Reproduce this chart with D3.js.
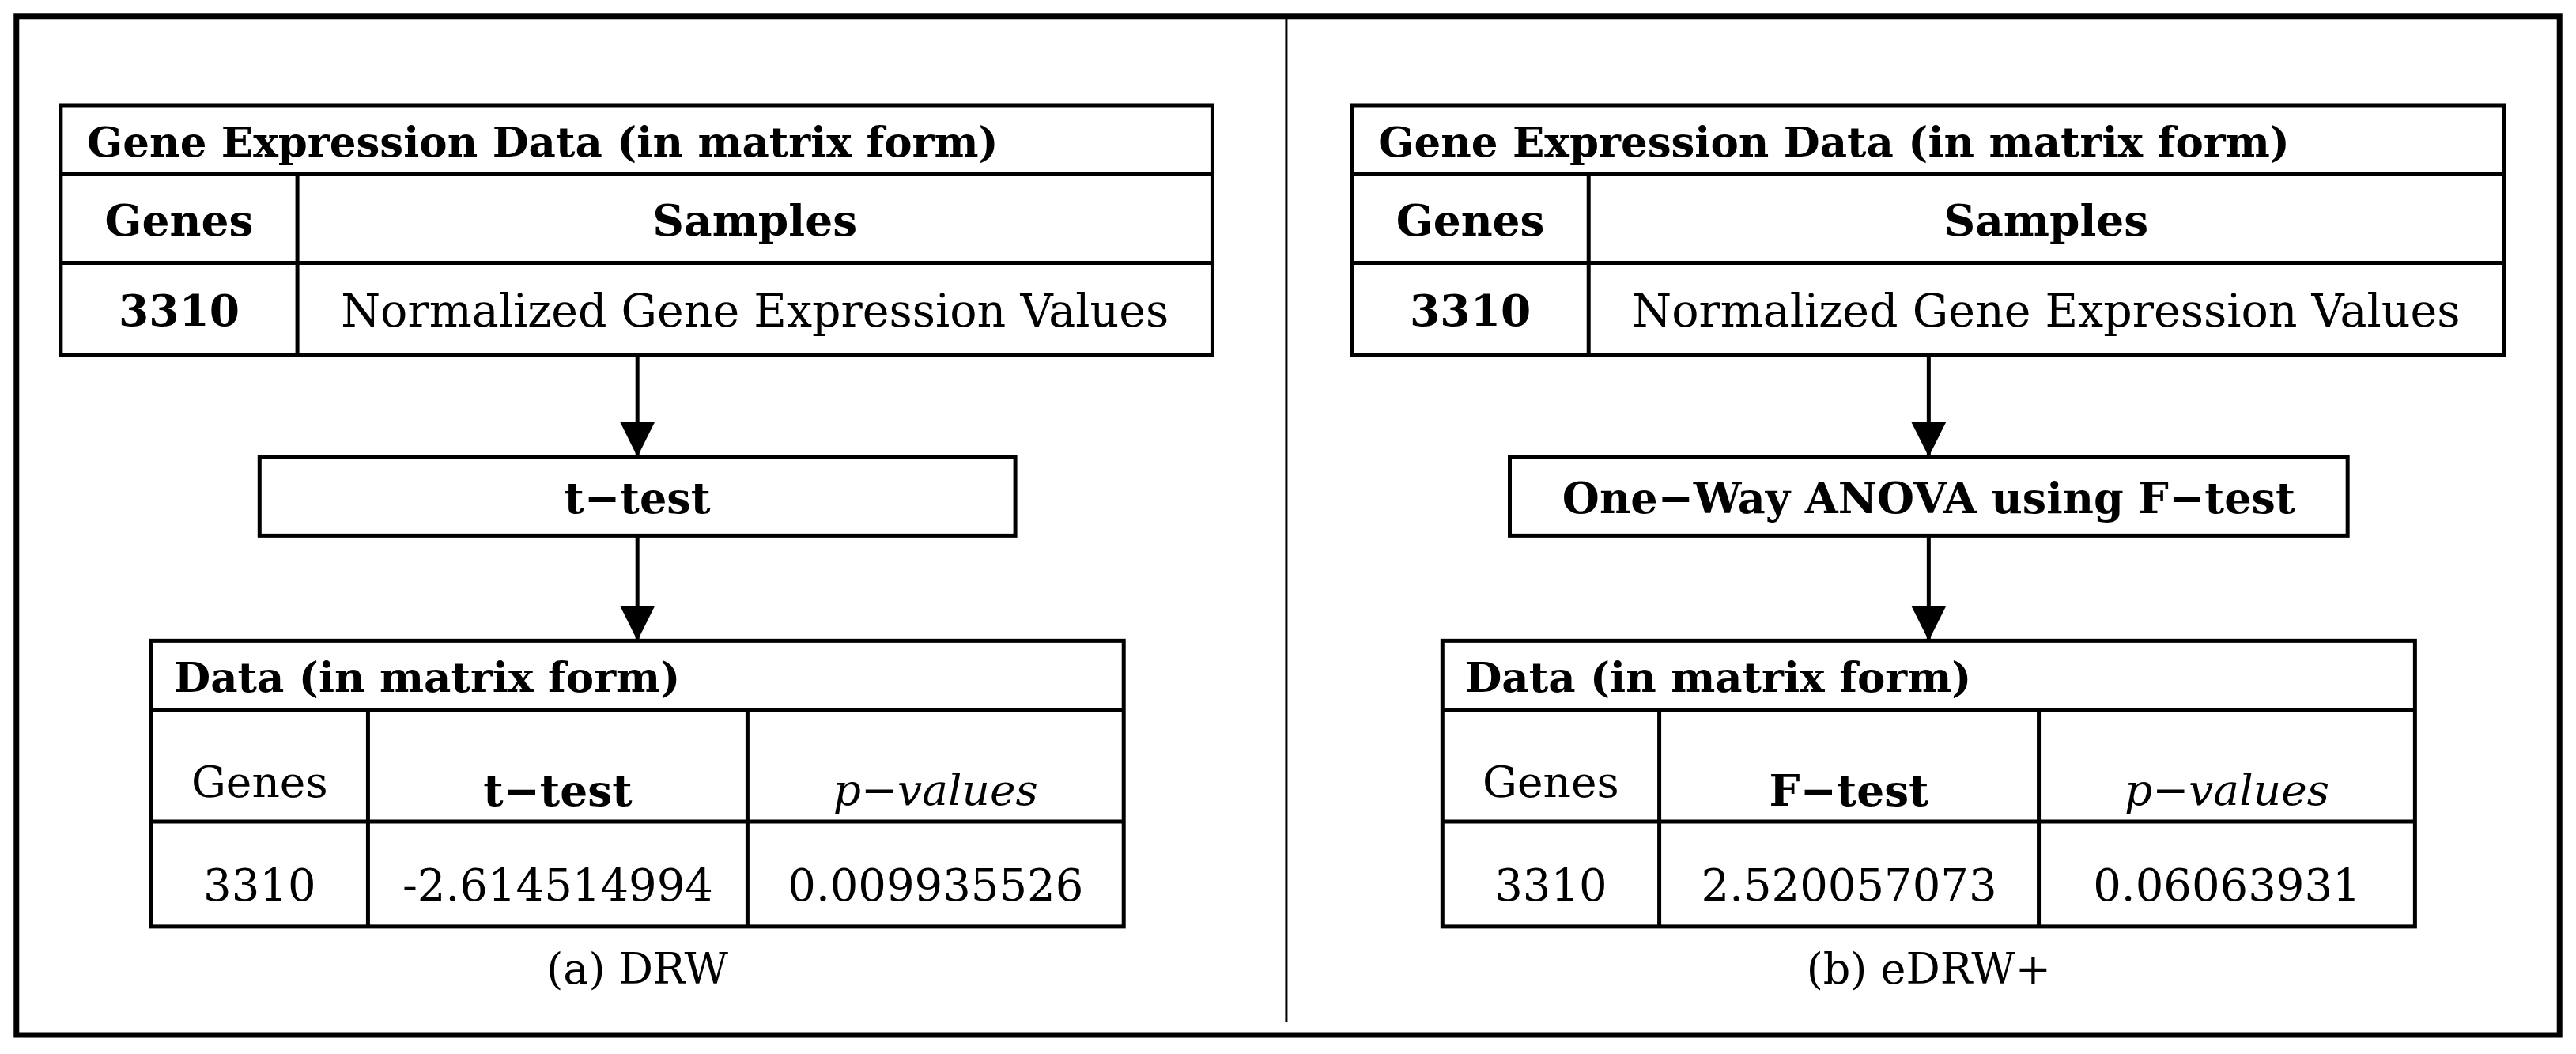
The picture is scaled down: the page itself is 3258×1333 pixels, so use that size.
<!DOCTYPE html>
<html><head><meta charset="utf-8">
<script src="https://cdn.jsdelivr.net/npm/d3@7"></script>
<style>body{margin:0;background:#fff}</style></head>
<body><svg id="c" width="3258" height="1333"></svg>
<script>
const panels = ["(a) DRW", "(b) eDRW+"];
const topTitle = "Gene Expression Data (in matrix form)";
const topHeader = ["Genes", "Samples"];
const topRow = ["3310", "Normalized Gene Expression Values"];
const methods = ["t\u2212test", "One\u2212Way ANOVA using F\u2212test"];
const bottomTitle = "Data (in matrix form)";
const bottomHeaders = [["Genes", "t\u2212test", "p\u2212values"], ["Genes", "F\u2212test", "p\u2212values"]];
const bottomRows = [["3310", "-2.614514994", "0.009935526"], ["3310", "2.520057073", "0.06063931"]];

const k = 3258/1568;
const sx = d3.scaleLinear().domain([0,1568]).range([0,3258]);
const sy = d3.scaleLinear().domain([0,641]).range([0,641*k]);
const svg = d3.select("#c");
const F = "'DejaVu Serif', serif";
svg.append("defs").append("marker").attr("id","ah").attr("viewBox","0 0 10 10")
  .attr("refX",10).attr("refY",5).attr("markerWidth",44).attr("markerHeight",44)
  .attr("markerUnits","userSpaceOnUse").attr("orient","auto")
  .append("path").attr("d","M0,0L10,5L0,10Z");

svg.append("rect").attr("x",sx(10)).attr("y",sy(10)).attr("width",sx(1548)).attr("height",sy(620))
  .attr("fill","none").attr("stroke","#000").attr("stroke-width",7);
svg.append("line").attr("x1",sx(783)).attr("x2",sx(783)).attr("y1",sy(10)).attr("y2",sy(622))
  .attr("stroke","#000").attr("stroke-width",3);

function rect(g,x0,y0,x1,y1){g.append("rect").attr("x",sx(x0)).attr("y",sy(y0)).attr("width",sx(x1-x0)).attr("height",sy(y1-y0)).attr("fill","#fff").attr("stroke","#000").attr("stroke-width",5);}
function line(g,x0,y0,x1,y1){g.append("line").attr("x1",sx(x0)).attr("y1",sy(y0)).attr("x2",sx(x1)).attr("y2",sy(y1)).attr("stroke","#000").attr("stroke-width",5);}
function text(g,x,y,t,o={}){const e=g.append("text").attr("x",sx(x)).attr("y",sy(y)).attr("font-family",F)
  .attr("font-size",o.size||56).attr("font-weight",o.bold?"bold":"normal").attr("font-style",o.italic?"italic":"normal")
  .attr("text-anchor",o.anchor||"middle").attr("dominant-baseline","central").text(t);return e;}

panels.forEach((cap,i)=>{
  const dx = i*786;
  const g = svg.append("g");
  const L=37+dx, R=738+dx, C=181+dx;
  rect(g,L,64,R,216); line(g,L,106,R,106); line(g,L,160,R,160); line(g,C,106,C,216);
  text(g,L+16,86,topTitle,{bold:true,anchor:"start",size:53});
  text(g,(L+C)/2,134,topHeader[0],{bold:true,size:55});
  text(g,(C+R)/2,134,topHeader[1],{bold:true,size:55});
  text(g,(L+C)/2,189,topRow[0],{bold:true,size:55});
  text(g,(C+R)/2,189,topRow[1],{size:57});
  const ax = 388+dx;
  g.append("line").attr("x1",sx(ax)).attr("x2",sx(ax)).attr("y1",sy(216)).attr("y2",sy(278)).attr("stroke","#000").attr("stroke-width",5).attr("marker-end","url(#ah)");
  const mw = i===0?230:255;
  rect(g,ax-mw,278,ax+mw,326);
  text(g,ax,303,methods[i],{bold:true,size:54});
  g.append("line").attr("x1",sx(ax)).attr("x2",sx(ax)).attr("y1",sy(326)).attr("y2",sy(390)).attr("stroke","#000").attr("stroke-width",5).attr("marker-end","url(#ah)");
  const bL=92+dx,bR=684+dx,c1=224+dx,c2=455+dx;
  rect(g,bL,390,bR,564); line(g,bL,432,bR,432); line(g,bL,500,bR,500); line(g,c1,432,c1,564); line(g,c2,432,c2,564);
  text(g,bL+14,412,bottomTitle,{bold:true,anchor:"start",size:53});
  const cx=[(bL+c1)/2,(c1+c2)/2,(c2+bR)/2];
  bottomHeaders[i].forEach((h,j)=>text(g,cx[j],j===0?476:481,h,{bold:j===1,italic:j===2,size:55}));
  bottomRows[i].forEach((v,j)=>text(g,cx[j],539,v,{size:56}));
  text(g,ax,590,cap,{size:54});
});
</script></body></html>
